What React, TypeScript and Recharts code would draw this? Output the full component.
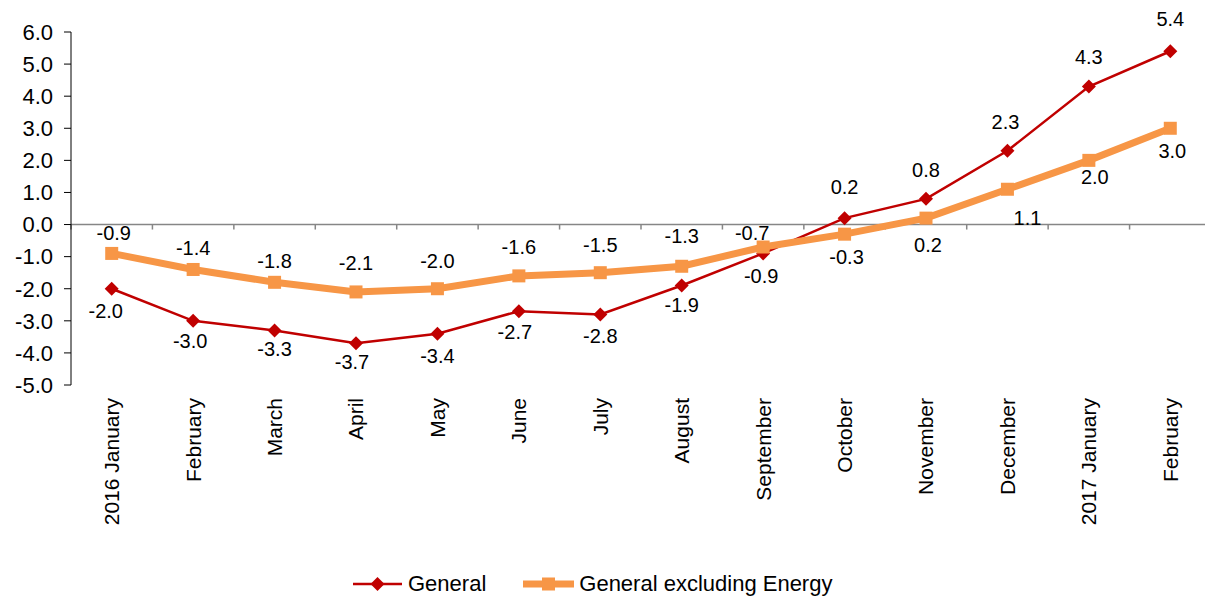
import { LineChart, Line, XAxis, YAxis, ReferenceLine, Legend } from "recharts";

const FONT = "'Liberation Sans', Arial, sans-serif";
const RED = "#C00000";
const ORANGE = "#F79646";

const months = [
  "2016 January",
  "February",
  "March",
  "April",
  "May",
  "June",
  "July",
  "August",
  "September",
  "October",
  "November",
  "December",
  "2017 January",
  "February",
];
const general = [-2.0, -3.0, -3.3, -3.7, -3.4, -2.7, -2.8, -1.9, -0.9, 0.2, 0.8, 2.3, 4.3, 5.4];
const generalExEnergy = [-0.9, -1.4, -1.8, -2.1, -2.0, -1.6, -1.5, -1.3, -0.7, -0.3, 0.2, 1.1, 2.0, 3.0];
const yTicks = [-5, -4, -3, -2, -1, 0, 1, 2, 3, 4, 5, 6];

// label offsets from each point (px), placed by hand like the original
const generalLabelDx = [-6, -3, 0, -4, 0, -4, 0, 0, -2, 0, 0, -2, 0, 0];
const generalLabelDy = [22, 20, 19, 19, 22, 21, 22, 19, 23, -31, -29, -29, -30, -32];
const exLabelDx = [2, 0, 0, 0, 0, 0, 0, 0, -11, 2, 2, 20, 6, 2];
const exLabelDy = [-20, -21, -21, -29, -28, -29, -28, -30, -14, 23, 27, 29, 17, 23];

const CHART_W = 1205;
const PLOT_W = 1140;
const HALF_STEP = PLOT_W / months.length / 2;

const data = months.map((m, i) => ({
  month: m,
  general: general[i],
  exEnergy: generalExEnergy[i],
}));

function MonthTick({ x, y, payload }: any) {
  return (
    <text
      x={0}
      y={0}
      transform={`translate(${x},${y + 13}) rotate(-90)`}
      textAnchor="end"
      dy="0.35em"
      fontSize={21}
      fontFamily={FONT}
      fill="#000"
    >
      {payload.value}
    </text>
  );
}

function Diamond({ cx, cy, index }: any) {
  if (cx == null || cy == null) return null;
  const r = 7;
  return (
    <polygon
      key={`d${index}`}
      points={`${cx},${cy - r} ${cx + r},${cy} ${cx},${cy + r} ${cx - r},${cy}`}
      fill={RED}
    />
  );
}

function Square({ cx, cy, index }: any) {
  if (cx == null || cy == null) return null;
  const s = 13;
  return <rect key={`s${index}`} x={cx - s / 2} y={cy - s / 2} width={s} height={s} fill={ORANGE} />;
}

function makeLabel(dxs: number[], dys: number[]) {
  return (props: any) => {
    const { x, y, value, index } = props;
    if (x == null || y == null) return null;
    const i = index ?? 0;
    return (
      <text
        key={`l${i}`}
        x={x + dxs[i]}
        y={y + dys[i]}
        textAnchor="middle"
        dominantBaseline="central"
        fontSize={20}
        fontFamily={FONT}
        fill="#000"
      >
        {Number(value).toFixed(1)}
      </text>
    );
  };
}

// zero line acting as the category axis, with tick marks between categories
function ZeroAxis(props: any) {
  const { x1, y1, x2, y2 } = props;
  const n = months.length;
  const step = (x2 - x1) / n;
  return (
    <g>
      <line x1={x1} y1={y1} x2={x2} y2={y2} stroke="#868686" strokeWidth={1.5} />
      {Array.from({ length: n + 1 }, (_, i) => (
        <line key={i} x1={x1 + i * step} y1={y1} x2={x1 + i * step} y2={y1 + 5} stroke="#868686" strokeWidth={1.5} />
      ))}
    </g>
  );
}

function ChartLegend() {
  return (
    <div
      style={{
        display: "flex",
        alignItems: "center",
        height: 30,
        marginLeft: 345,
        fontFamily: FONT,
        fontSize: 22,
        color: "#000",
      }}
    >
      <svg width={49} height={16}>
        <line x1={0} y1={8} x2={49} y2={8} stroke={RED} strokeWidth={2.5} />
        <polygon points="24.5,1 31.5,8 24.5,15 17.5,8" fill={RED} />
      </svg>
      <span style={{ marginLeft: 6 }}>General</span>
      <svg width={51} height={16} style={{ marginLeft: 37 }}>
        <line x1={0} y1={8} x2={51} y2={8} stroke={ORANGE} strokeWidth={7} strokeLinecap="round" />
        <rect x={19} y={1.5} width={13} height={13} fill={ORANGE} />
      </svg>
      <span style={{ marginLeft: 5 }}>General excluding Energy</span>
    </div>
  );
}

export default function App() {
  return (
    <LineChart
      width={CHART_W}
      height={591}
      data={data}
      margin={{ top: 24, right: CHART_W - 63 - PLOT_W, bottom: 0, left: 0 }}
    >
      <XAxis
        dataKey="month"
        interval={0}
        axisLine={false}
        tickLine={false}
        tickSize={0}
        tickMargin={0}
        height={184}
        padding={{ left: HALF_STEP, right: HALF_STEP }}
        tick={<MonthTick />}
      />
      <YAxis
        domain={[-5, 6]}
        ticks={yTicks}
        interval={0}
        width={63}
        tickSize={7}
        tickMargin={11}
        axisLine={{ stroke: "#000" }}
        tickLine={{ stroke: "#000" }}
        tick={{ fontSize: 22, fill: "#000", fontFamily: FONT }}
        tickFormatter={(v: number) => v.toFixed(1)}
      />
      <ReferenceLine y={0} stroke="#868686" shape={ZeroAxis} />
      <Line
        dataKey="general"
        name="General"
        stroke={RED}
        strokeWidth={2.5}
        dot={Diamond}
        activeDot={false}
        label={makeLabel(generalLabelDx, generalLabelDy)}
        isAnimationActive={false}
      />
      <Line
        dataKey="exEnergy"
        name="General excluding Energy"
        stroke={ORANGE}
        strokeWidth={7}
        dot={Square}
        activeDot={false}
        label={makeLabel(exLabelDx, exLabelDy)}
        isAnimationActive={false}
      />
      <Legend verticalAlign="bottom" content={<ChartLegend />} />
    </LineChart>
  );
}
